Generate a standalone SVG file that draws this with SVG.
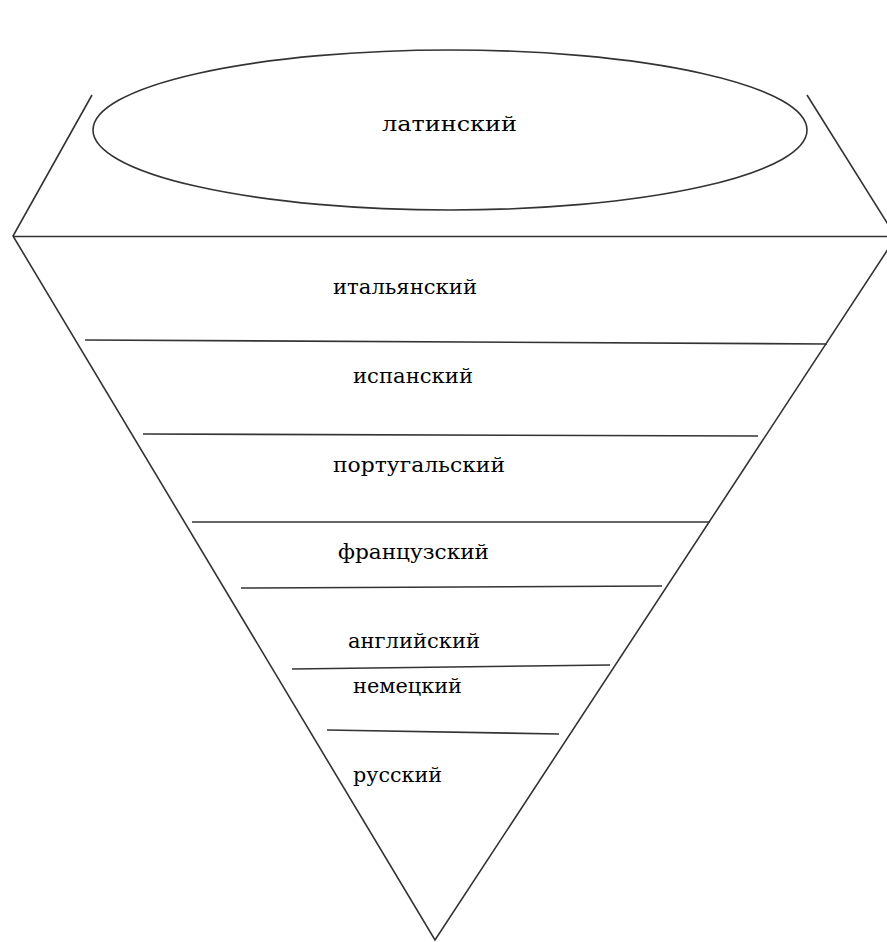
<svg xmlns="http://www.w3.org/2000/svg" width="887" height="942" viewBox="0 0 887 942">
<style>
.s{fill:none;stroke:#333;stroke-width:1.6}
.t{font-family:"DejaVu Serif","Liberation Serif",serif;font-size:20px;fill:#000}
</style>
<rect width="887" height="942" fill="#fff"/>
<g id="funnel">
<polyline class="s" points="92,95 13,236 435,940 896,237 807,95"/>
<line class="s" x1="13" y1="236.5" x2="896" y2="236.5"/>
</g>
<g id="latin">
<ellipse class="s" cx="450" cy="130" rx="357" ry="80"/>
<text class="t" x="382" y="131" textLength="135" lengthAdjust="spacingAndGlyphs">латинский</text>
</g>
<g id="connectors">
<line class="s" x1="85" y1="340" x2="827" y2="344"/>
<line class="s" x1="143" y1="434" x2="758" y2="436"/>
<line class="s" x1="192" y1="522" x2="710" y2="522"/>
<line class="s" x1="241" y1="588" x2="662" y2="586"/>
<line class="s" x1="292" y1="669" x2="610" y2="665"/>
<line class="s" x1="327" y1="730" x2="559" y2="734"/>
</g>
<g id="italian"><text class="t" x="333" y="294" textLength="144" lengthAdjust="spacingAndGlyphs">итальянский</text></g>
<g id="spanish"><text class="t" x="353" y="383" textLength="120" lengthAdjust="spacingAndGlyphs">испанский</text></g>
<g id="portuguese"><text class="t" x="333" y="472" textLength="172" lengthAdjust="spacingAndGlyphs">португальский</text></g>
<g id="french"><text class="t" x="338" y="559" textLength="151" lengthAdjust="spacingAndGlyphs">французский</text></g>
<g id="english"><text class="t" x="348" y="648" textLength="132" lengthAdjust="spacingAndGlyphs">английский</text></g>
<g id="german"><text class="t" x="353" y="693" textLength="109" lengthAdjust="spacingAndGlyphs">немецкий</text></g>
<g id="russian"><text class="t" x="353" y="782" textLength="89" lengthAdjust="spacingAndGlyphs">русский</text></g>
</svg>
